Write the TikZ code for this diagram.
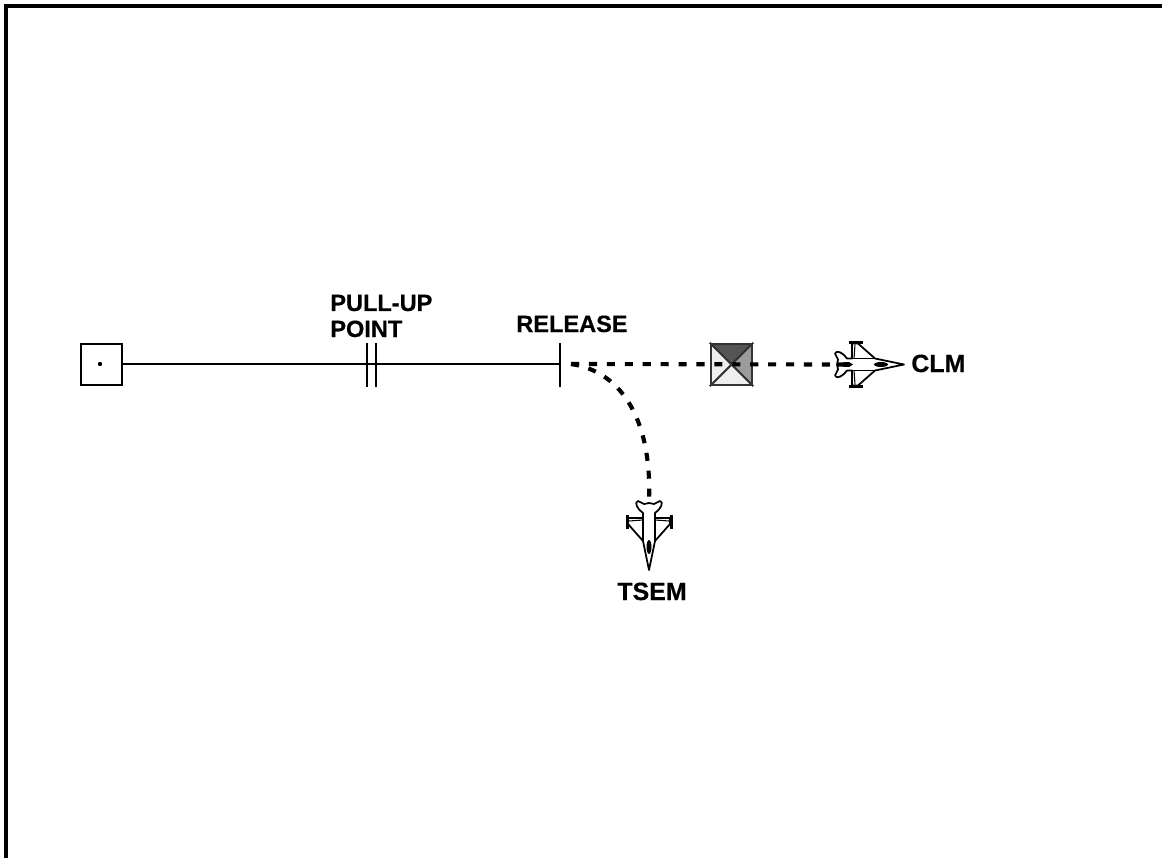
\documentclass[tikz,border=0pt]{standalone}
\usepackage{fontspec}
\setmainfont{Liberation Sans}[BoldFeatures={FakeBold=0.5}]
\usepackage{xcolor}
\usetikzlibrary{positioning}
\definecolor{shadedark}{HTML}{555555}
\definecolor{shademid}{HTML}{9C9C9C}
\definecolor{shadelight}{HTML}{EEEEEE}
\tikzset{
  tag/.style={font=\bfseries\fontsize{13.4}{14.8}\selectfont, inner sep=0pt, align=left},
  bigtag/.style={font=\bfseries\fontsize{14.2}{15}\selectfont, inner sep=0pt},
  route/.style={line width=1.68pt, black},
  dashroute/.style={line width=2.35pt, black, dash pattern=on 4.6pt off 5.6pt},
  jet/.pic={
    \draw[line width=1pt, fill=white, line join=round]
      (69,0) -- (40,-6) -- (23,-21) -- (17,-21) -- (17,-6) -- (12,-6)
      .. controls (8,-12) and (1,-15) .. (0,-11) -- (3,-5) -- (2,0)
      -- (3,5) -- (0,11) .. controls (1,15) and (8,12) .. (12,6)
      -- (17,6) -- (17,21) -- (23,21) -- (40,6) -- cycle;
    \draw[line width=1.7pt] (14,-22) -- (28,-22);
    \draw[line width=1.7pt] (14,22) -- (28,22);
    \draw[line width=0.6pt] (20,-20) -- (19,-6) (20,20) -- (19,6);
    \draw[line width=1pt] (12,-6) -- (40,-6) (12,6) -- (40,6);
    \fill (46,0) ellipse [x radius=7, y radius=2.5];
  },
  nozzle/.pic={
    \fill (3,-2) -- (14,-2.5) -- (18,0) -- (14,2.5) -- (3,2) -- cycle;
  },
}
\begin{document}
\begin{tikzpicture}[x=0.02cm, y=-0.02cm]
  \useasboundingbox (0,0) rectangle (1162,858);
  \draw[line width=2.3pt, line cap=butt] (6,858) -- (6,6) -- (1162,6);

  % track
  \coordinate (ipc) at (101.5,364.5);
  \coordinate (pullA) at (367,365);
  \coordinate (pullB) at (376,365);
  \coordinate (rel) at (560,365);
  \coordinate (relout) at (571,364);
  \coordinate (clm) at (835,364.5);
  \coordinate (tsem) at (649,501);
  \coordinate (box) at (731.5,364.5);

  \node[draw, line width=1.7pt, minimum width=0.82cm, minimum height=0.82cm, inner sep=0pt] (ip) at (ipc) {};
  \fill (100,364) circle (2.2);
  \draw[route] (ip.east |- 0,364) -- (560,364);
  \draw[route] (pullA) ++(0,-22) -- ++(0,44);
  \draw[route] (pullB) ++(0,-22) -- ++(0,44);
  \draw[route] (rel) ++(0,-22) -- ++(0,44);

  % target box
  \coordinate (nw) at (711,344);
  \coordinate (ne) at (752,344);
  \coordinate (sw) at (711,385);
  \coordinate (se) at (752,385);
  \draw[line width=1.1pt, fill=shadedark, draw=black!80] (nw) -- (ne) -- (box) -- cycle;
  \draw[line width=1.1pt, fill=shademid, draw=black!80] (ne) -- (se) -- (box) -- cycle;
  \draw[line width=1.1pt, fill=shadelight, draw=black!80] (se) -- (sw) -- (box) -- cycle;
  \draw[line width=1.1pt, fill=shadelight, draw=black!80] (sw) -- (nw) -- (box) -- cycle;

  \pic at (clm) {jet};
  \pic at (clm) {nozzle};
  \pic[rotate=-90] at (tsem) {jet};

  \draw[dashroute] (relout) -- (clm);
  \draw[dashroute] (relout) .. controls (625,372) and (652,425) .. (tsem);

  \node[tag, anchor=base west] (pull) at (330,337) {PULL-UP\\POINT};
  \node[tag, anchor=base west] (release) at (516,332) {RELEASE};
  \node[bigtag, anchor=base west] (clmtag) at (911,372) {CLM};
  \node[bigtag, anchor=base west] (tsemtag) at (617,600) {TSEM};
\end{tikzpicture}
\end{document}
